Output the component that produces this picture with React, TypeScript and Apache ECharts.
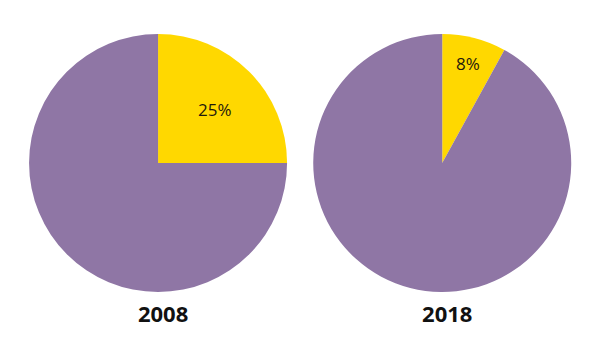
import React, { useEffect, useRef } from "react";
import * as echarts from "echarts";

const years = ["2008", "2018"];
const categories = ["Share", "Rest"];
const shareValues = [25, 8];
const restValues = [75, 92];
const shareLabels = ["25%", "8%"];

export default function App() {
  const ref = useRef<HTMLDivElement>(null);
  useEffect(() => {
    if (!ref.current) return;
    const chart = echarts.init(ref.current, null, { renderer: "svg" });
    const centersX = ["26.7%", "74.7%"];
    const labelOffsets = [
      [9, -6],
      [9, -34],
    ];
    const series: any[] = years.map((y, i) => ({
      type: "pie",
      name: y,
      center: [centersX[i], 163],
      radius: [0, 129],
      startAngle: 90,
      clockwise: true,
      silent: true,
      label: { show: false },
      labelLine: { show: false },
      itemStyle: { borderWidth: 0 },
      data: [
        {
          name: categories[0],
          value: shareValues[i],
          itemStyle: { color: "#ffd800" },
          label: {
            show: true,
            position: "inside",
            formatter: shareLabels[i],
            color: "#1f1a0c",
            fontSize: 17,
            fontFamily: "Open Sans",
            offset: labelOffsets[i],
          },
        },
        {
          name: categories[1],
          value: restValues[i],
          itemStyle: { color: "#8f76a5" },
        },
      ],
    }));
    chart.setOption({
      animation: false,
      backgroundColor: "#ffffff",
      title: years.map((y, i) => ({
        text: y,
        left: centersX[i],
        top: 297,
        textAlign: "center",
        textStyle: {
          fontFamily: "Open Sans",
          fontWeight: "bold",
          fontSize: 22,
          color: "#111111",
        },
      })),
      series,
    });
    return () => chart.dispose();
  }, []);
  return (
    <div
      ref={ref}
      style={{ width: 592, height: 352, position: "absolute", left: 0, top: 0 }}
    />
  );
}
